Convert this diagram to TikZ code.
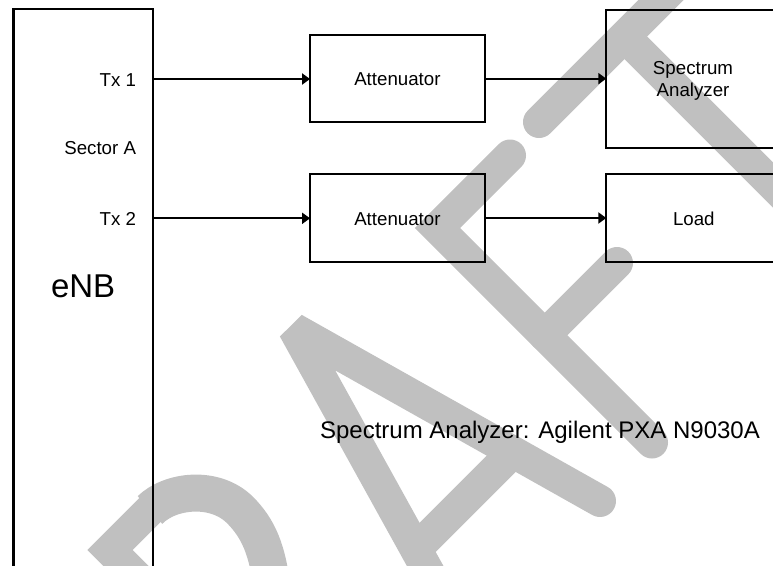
\documentclass[tikz,border=0pt]{standalone}
\usepackage{fontspec}
\setmainfont{Liberation Sans}
\usetikzlibrary{arrows.meta}
\definecolor{wmgray}{RGB}{192,192,192}
\tikzset{
  box/.style={draw=black, line width=2.2pt, inner sep=0pt, outer sep=0pt,
    font=\fontsize{18.7}{22.7}\selectfont, text height=14pt, text depth=0pt},
  lbl/.style={inner sep=0pt, outer sep=0pt, font=\fontsize{18.7}{22.7}\selectfont},
  biglbl/.style={inner sep=0pt, outer sep=0pt, font=\fontsize{33}{40}\selectfont},
  notelbl/.style={inner sep=0pt, outer sep=0pt, font=\fontsize{24}{29}\selectfont},
  link/.style={line width=2.2pt, -{Triangle[length=8pt,width=11pt]}},
  wm/.style={draw=wmgray, line width=32pt, line cap=round},
}
\begin{document}
\begin{tikzpicture}[x=1pt,y=-1pt]
\useasboundingbox (0,0) rectangle (773,565);
\clip (0,0) rectangle (773,565);

% DRAFT watermark strokes (drawn underneath)
% R
\draw[wm, line cap=butt, line join=miter] (140,580) -- (110,550) -- (156,504);
\draw[wm, line cap=butt, line width=37pt] (150,510) .. controls (170,490) and (215,485) .. (240,510)
  .. controls (258,528) and (268,550) .. (272,590);
% A
\draw[wm, line join=bevel] (444,600) -- (293.9,328.8) -- (600,501);
\draw[wm, line cap=butt] (416,549) -- (513,452);
% F
\draw[wm, line join=miter] (510,155.5) -- (437.5,228) -- (652,442.5);
\draw[wm] (544.75,335.25) -- (617,263);
% T
\draw[wm] (539,122) -- (850,-189);
\draw[wm, line cap=butt] (624.5,36.5) -- (950,362);

% blocks
\node[box, minimum width=139.8pt, minimum height=591pt] (enb) at (83.4,304.6) {};
\node[box, minimum width=174.7pt, minimum height=87.3pt] (att1) at (397.4,78.65) {Attenuator};
\node[box, minimum width=174.7pt, minimum height=87.4pt] (att2) at (397.4,218) {Attenuator};
\node[box, minimum width=175pt, minimum height=138.3pt] (sa) at (693.8,79.15) {};
\node[box, minimum width=175pt, minimum height=87.4pt] (load) at (693.8,218) {Load};

% texts
\node[lbl, anchor=base east] (tx1) at (136,86) {Tx 1};
\node[lbl, anchor=base east] (sector) at (136,154.3) {Sector A};
\node[lbl, anchor=base east] (tx2) at (136,225.7) {Tx 2};
\node[biglbl, anchor=base west] (enbname) at (51,297) {eNB};
\node[lbl, anchor=base] (saline1) at (693,74) {Spectrum};
\node[lbl, anchor=base] (saline2) at (693,96.7) {Analyzer};
\node[notelbl, anchor=base] (note) at (540,438.3) {Spectrum Analyzer: Agilent PXA N9030A};

% connections
\coordinate (out1) at (enb.east |- 0,79);
\coordinate (out2) at (enb.east |- 0,218.3);
\draw[link] (out1) -- (out1 -| att1.west);
\draw[link] (out2) -- (out2 -| att2.west);
\draw[link] (att1.east) -- (att1.east -| sa.west);
\draw[link] (att2.east) -- (att2.east -| load.west);
\end{tikzpicture}
\end{document}
